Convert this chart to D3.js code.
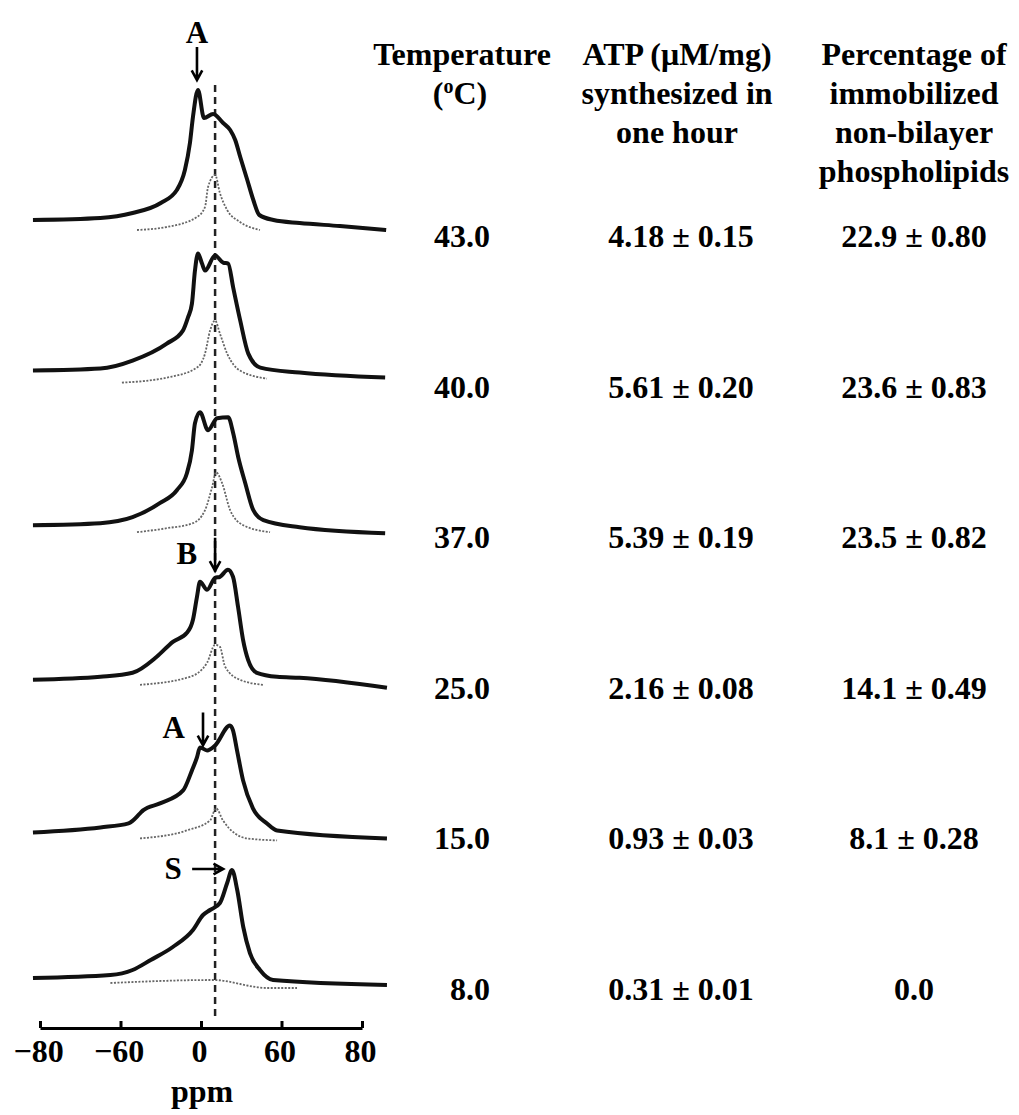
<!DOCTYPE html>
<html>
<head>
<meta charset="utf-8">
<script src="https://cdn.jsdelivr.net/npm/d3@7"></script>
<style>
  body { margin: 0; background: #fff; }
  svg text { font-family: "Liberation Serif", "Times New Roman", serif; font-weight: bold; fill: #000; }
</style>
</head>
<body>
<div id="figure"></div>
<script>
var width = 1019;
var height = 1115;

// table data
var temperatures = [43.0, 40.0, 37.0, 25.0, 15.0, 8.0];
var atpMean = [4.18, 5.61, 5.39, 2.16, 0.93, 0.31];
var atpSd = [0.15, 0.20, 0.19, 0.08, 0.03, 0.01];
var pctMean = [22.9, 23.6, 23.5, 14.1, 8.1, 0.0];
var pctSd = [0.80, 0.83, 0.82, 0.49, 0.28, null];

var headerTemp = ["Temperature", "(\u00baC)"];
var headerAtp = ["ATP (\u03bcM/mg)", "synthesized in", "one hour"];
var headerPct = ["Percentage of", "immobilized", "non-bilayer", "phospholipids"];

// axis ticks (ppm) and the labels printed under them
var tickValues = [-80, -40, 0, 40, 80];
var tickLabels = ["\u221280", "\u221260", "0", "60", "80"];
var refShift = 7; // dashed reference line, ppm

// 31P spectra: [ppm, intensity], one per temperature
var spec43 = [[-83.5,10],[-50,12],[-34,17],[-20,27],[-12,40],[-8,60],[-5.5,87],[-4,113],[-1.5,140],[1.5,112],[6,116],[11,107],[14.5,100],[17,90],[19.5,73],[23,50],[26,30],[29,15],[36,10],[49,7],[69,4],[92,0]];
var spec40 = [[-83.5,10],[-50,12],[-34,20],[-17,37],[-9,50],[-6.5,63],[-4.5,77],[-3,110],[-1.5,127],[0.5,117],[2,110],[7,125],[11,118],[13.5,117],[16,93],[19.5,60],[23.5,27],[29.5,13],[49,8],[91.5,3]];
var spec37 = [[-83.5,6],[-50,8],[-34,14],[-20.5,28],[-12,41],[-7,58],[-4.5,81],[-3,108],[-0.5,119],[3.5,101],[8,113],[13.5,114],[16,98],[18.5,74],[22,48],[26,21],[31,11],[49,4],[91.5,-2]];
var spec25 = [[-83.5,2],[-50,5],[-34,9],[-22,25],[-14,40],[-7,49],[-4,62],[-2,85],[-0.5,100],[3,92],[7,104],[9.4,105],[13.4,112],[15.9,105],[18.4,75],[20.9,42],[23.4,22],[27.8,9],[37.8,5],[49,4],[92.4,-6]];
var spec15 = [[-83.5,0],[-50,5],[-36,9],[-30.3,19],[-28.8,22],[-20.4,29],[-8.9,42],[-4.5,62],[-2,75],[-0.5,85],[3,82],[7,87],[14.4,107],[15.9,102],[17.9,82],[20.9,52],[25.8,24],[32.8,9],[37.8,2],[92.4,-6]];
var spec8 = [[-83.5,5],[-45,8],[-34,13],[-25,23],[-14,36],[-4,53],[1,68],[4.5,73],[9.4,80],[13,100],[15.4,113],[18,93],[21,56],[24.3,30],[29.3,13],[35.8,3],[92.4,-2]];

// isotropic (immobilized non-bilayer) components, dotted
var iso43 = [[-31.8,0],[-17,3],[-2,13],[2,23],[3.5,43],[7,55],[9.4,37],[13,20],[19.4,8],[29.3,0]];
var iso40 = [[-39.3,-2],[-17,3],[-2,13],[2,27],[4.5,50],[7,60],[9.4,47],[13,27],[19.4,10],[32.8,2]];
var iso37 = [[-31.8,-1],[-17,3],[-4,8],[2,21],[5.5,44],[7.5,59],[10.5,48],[14.5,21],[21,6],[34.3,-1]];
var iso25 = [[-30.3,-3],[-5.5,5],[3,19],[7,37],[9.4,35],[12,15],[19.4,2],[30.8,-3]];
var iso15 = [[-30.3,-6],[-7,2],[4.5,12],[7.5,24],[10.9,12],[22.9,-6],[37.8,-8]];
var iso8 = [[-45,0],[6,3],[33,-5],[47.7,-5]];

var spectra = [spec43, spec40, spec37, spec25, spec15, spec8];
var isotropic = [iso43, iso40, iso37, iso25, iso15, iso8];

// peak labels: spectrum index, ppm and intensity of the arrow tip
var marks = [
  {label: "A", row: 0, ppm: -2, h: 150, dir: "down"},
  {label: "B", row: 3, ppm: 7, h: 111, dir: "down"},
  {label: "A", row: 4, ppm: 1, h: 87, dir: "down"},
  {label: "S", row: 5, ppm: 11, h: 114, dir: "right"}
];

var svg = d3.select("#figure").append("svg")
      .attr("width", width)
      .attr("height", height);

// scales
var xScale = d3.scaleLinear()
      .domain([-80, 80])
      .range([40, 362]);

var rowScale = d3.scalePoint()
      .domain(temperatures)
      .range([230, 983]);

var yScale = d3.scaleLinear()
      .domain([0, 100])
      .range([0, -100]);

var line = d3.line()
      .x(d => xScale(d[0]))
      .y(d => yScale(d[1]))
      .curve(d3.curveMonotoneX);

// dashed reference line
svg.append("line")
      .attr("x1", xScale(refShift))
      .attr("x2", xScale(refShift))
      .attr("y1", 85)
      .attr("y2", 1021)
      .style("stroke", "#222")
      .style("stroke-width", 2.5)
      .style("stroke-dasharray", "7,5");

// spectra
var rows = svg.selectAll("g.spectrum")
      .data(temperatures)
  .enter()
      .append("g")
      .attr("class", "spectrum")
      .attr("transform", d => "translate(0," + rowScale(d) + ")");

rows.append("path")
      .attr("d", (d, i) => line(isotropic[i]))
      .style("fill", "none")
      .style("stroke", "#666")
      .style("stroke-width", 1.8)
      .style("stroke-dasharray", "2,1.5");

rows.append("path")
      .attr("d", (d, i) => line(spectra[i]))
      .style("fill", "none")
      .style("stroke", "#111")
      .style("stroke-width", 4)
      .style("stroke-linejoin", "round");

// arrows and peak labels
function arrow(g, x1, y1, x2, y2) {
  var a = Math.atan2(y2 - y1, x2 - x1);
  var len = 11, spread = 0.5;
  g.append("path")
        .attr("d", "M" + x1 + "," + y1 + "L" + x2 + "," + y2 +
              "M" + (x2 - len * Math.cos(a - spread)) + "," + (y2 - len * Math.sin(a - spread)) +
              "L" + x2 + "," + y2 +
              "L" + (x2 - len * Math.cos(a + spread)) + "," + (y2 - len * Math.sin(a + spread)))
        .style("fill", "none")
        .style("stroke", "#000")
        .style("stroke-width", 2.6);
}

marks.forEach(function(m) {
  var g = svg.append("g");
  var tx = xScale(m.ppm);
  var ty = rowScale(temperatures[m.row]) + yScale(m.h);
  if (m.dir === "right") {
    arrow(g, tx - 31, ty, tx, ty);
    g.append("text")
          .attr("x", tx - 50)
          .attr("y", ty + 10)
          .attr("text-anchor", "middle")
          .style("font-size", "31px")
          .text(m.label);
  } else {
    arrow(g, tx, ty - 33, tx, ty);
    var lbl = g.append("text").style("font-size", "31px").text(m.label);
    if (m.row === 0) {
      lbl.attr("x", tx).attr("y", ty - 37).attr("text-anchor", "middle");
    } else {
      lbl.attr("x", tx - 18).attr("y", ty - 7).attr("text-anchor", "end");
    }
  }
});

// x axis
var xAxis = d3.axisBottom(xScale)
      .tickValues(tickValues)
      .tickFormat((d, i) => tickLabels[i])
      .tickSizeInner(-7)
      .tickSizeOuter(0);

var axisGroup = svg.append("g")
      .attr("transform", "translate(0,1028)")
      .call(xAxis);
axisGroup.select(".domain")
      .style("stroke", "#000")
      .style("stroke-width", 3);
axisGroup.selectAll(".tick line")
      .style("stroke", "#000")
      .style("stroke-width", 3);
axisGroup.selectAll(".tick text")
      .attr("y", 34)
      .attr("dy", 0)
      .attr("dx", -2)
      .style("font-size", "32px")
      .style("font-family", "'Liberation Serif', 'Times New Roman', serif")
      .style("font-weight", "bold")
      .style("fill", "#000");

svg.append("text")
      .attr("x", 202)
      .attr("y", 1102)
      .attr("text-anchor", "middle")
      .style("font-size", "32px")
      .text("ppm");

// table headers
var headerBase = [65, 104, 143, 182];

function header(lines, cx) {
  var t = svg.append("text")
        .attr("text-anchor", "middle")
        .style("font-size", "32px");
  lines.forEach(function(s, i) {
    t.append("tspan")
          .attr("x", cx)
          .attr("y", headerBase[i])
          .text(s);
  });
  return t;
}

header([headerTemp[0]], 462);
// (ºC) with superscript o
var deg = svg.append("text")
      .attr("x", 460)
      .attr("y", headerBase[1])
      .attr("text-anchor", "middle")
      .style("font-size", "32px");
deg.append("tspan").text("(");
deg.append("tspan").attr("dy", -11).style("font-size", "20px").text("o");
deg.append("tspan").attr("dy", 11).text("C)");

header(headerAtp, 677);
header(headerPct, 914);

// table values
var f1 = d3.format(".1f"), f2 = d3.format(".2f");
var valueRows = svg.selectAll("g.row")
      .data(temperatures)
  .enter()
      .append("g")
      .attr("class", "row")
      .attr("transform", d => "translate(0," + (rowScale(d) + 17) + ")");

valueRows.append("text")
      .attr("x", 490)
      .attr("text-anchor", "end")
      .style("font-size", "32px")
      .text(d => f1(d));

valueRows.append("text")
      .attr("x", 681)
      .attr("text-anchor", "middle")
      .style("font-size", "32px")
      .text((d, i) => f2(atpMean[i]) + " \u00b1 " + f2(atpSd[i]));

valueRows.append("text")
      .attr("x", 914)
      .attr("text-anchor", "middle")
      .style("font-size", "32px")
      .text((d, i) => pctSd[i] == null ? f1(pctMean[i]) : f1(pctMean[i]) + " \u00b1 " + f2(pctSd[i]));
</script>
</body>
</html>
